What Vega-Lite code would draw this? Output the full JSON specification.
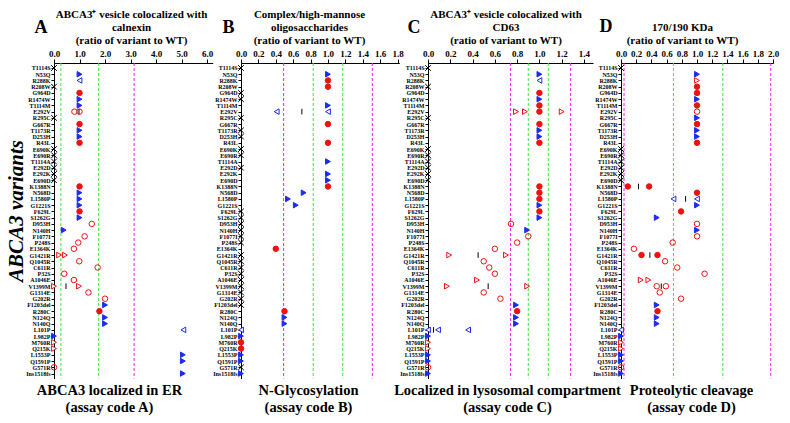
{
  "$schema": "https://vega.github.io/schema/vega-lite/v6.json",
  "padding": {"left": 5, "top": 8, "right": 5, "bottom": 5},
  "spacing": 28,
  "bounds": "flush",
  "title": {"text": "ABCA3 variants", "orient": "left", "anchor": "middle", "frame": "bounds", "font": "Liberation Serif", "fontSize": 21, "fontStyle": "italic", "fontWeight": "bold", "color": "#000", "offset": -1},
  "config": {
    "view": {"stroke": null},
    "font": "Liberation Serif",
    "axis": {"labelFont": "Liberation Serif", "titleFont": "Liberation Serif", "labelFontWeight": "bold", "titleFontWeight": "bold", "labelColor": "#000", "titleColor": "#000", "domainColor": "#000", "tickColor": "#000", "grid": false},
    "axisX": {"labelFontSize": 9, "tickSize": 4, "labelPadding": 1, "titleFontSize": 11, "titleLineHeight": 13, "titlePadding": 4, "labelFlush": false, "labelOverlap": false},
    "axisY": {"labelFontSize": 6, "tickSize": 3, "labelPadding": 1, "labelOverlap": false, "titleAngle": 0, "titleFontSize": 18, "titleAlign": "left", "titleBaseline": "alphabetic", "titleY": -31}
  },
  "datasets": {
    "lines": [
      {"p": "A", "x": 0.27, "c": "g"}, {"p": "A", "x": 1.75, "c": "g"}, {"p": "A", "x": 3.14, "c": "m"},
      {"p": "B", "x": 0.49, "c": "m"}, {"p": "B", "x": 0.83, "c": "g"}, {"p": "B", "x": 1.17, "c": "g"}, {"p": "B", "x": 1.51, "c": "m"},
      {"p": "C", "x": 0.74, "c": "m"}, {"p": "C", "x": 0.9, "c": "g"}, {"p": "C", "x": 1.08, "c": "g"}, {"p": "C", "x": 1.28, "c": "m"},
      {"p": "D", "x": 0.04, "c": "m"}, {"p": "D", "x": 0.69, "c": "g"}, {"p": "D", "x": 1.34, "c": "g"}, {"p": "D", "x": 1.97, "c": "m"}
    ],
    "pts": [
      {"p": "A", "v": "T1114S", "x": 0, "m": "nd"},
      {"p": "A", "v": "N53Q", "x": 1, "m": "bt"},
      {"p": "A", "v": "R288K", "x": 1, "m": "bl"},
      {"p": "A", "v": "R208W", "x": 0, "m": "ndx"},
      {"p": "A", "v": "G964D", "x": 1, "m": "fc"},
      {"p": "A", "v": "R1474W", "x": 1, "m": "bt"},
      {"p": "A", "v": "T1114M", "x": 1, "m": "bt"},
      {"p": "A", "v": "E292V", "x": 0.8, "m": "oc"},
      {"p": "A", "v": "E292V", "x": 1, "m": "oc"},
      {"p": "A", "v": "E292V", "x": 0.98, "m": "bar"},
      {"p": "A", "v": "R295C", "x": 0, "m": "nd"},
      {"p": "A", "v": "G667R", "x": 1, "m": "fc"},
      {"p": "A", "v": "T1173R", "x": 1, "m": "bt"},
      {"p": "A", "v": "D253H", "x": 1, "m": "bt"},
      {"p": "A", "v": "R43L", "x": 1, "m": "fc"},
      {"p": "A", "v": "E690K", "x": 0, "m": "nd"},
      {"p": "A", "v": "E690R", "x": 0, "m": "nd"},
      {"p": "A", "v": "T1114A", "x": 0, "m": "nd"},
      {"p": "A", "v": "E292D", "x": 0, "m": "nd"},
      {"p": "A", "v": "E292K", "x": 0, "m": "nd"},
      {"p": "A", "v": "E690D", "x": 0, "m": "nd"},
      {"p": "A", "v": "K1388N", "x": 1, "m": "fc"},
      {"p": "A", "v": "N568D", "x": 1, "m": "bt"},
      {"p": "A", "v": "L1580P", "x": 1, "m": "bt"},
      {"p": "A", "v": "G1221S", "x": 1, "m": "bt"},
      {"p": "A", "v": "F629L", "x": 1, "m": "fc"},
      {"p": "A", "v": "S1262G", "x": 1, "m": "bt"},
      {"p": "A", "v": "D953H", "x": 1.48, "m": "oc"},
      {"p": "A", "v": "N140H", "x": 0.38, "m": "bt"},
      {"p": "A", "v": "F1077I", "x": 1.2, "m": "oc"},
      {"p": "A", "v": "P248S", "x": 0.95, "m": "oc"},
      {"p": "A", "v": "E1364K", "x": 0.78, "m": "oc"},
      {"p": "A", "v": "G1421R", "x": 0.2, "m": "rt"},
      {"p": "A", "v": "G1421R", "x": 0.43, "m": "rt"},
      {"p": "A", "v": "Q1045R", "x": 0.99, "m": "oc"},
      {"p": "A", "v": "C611R", "x": 1.71, "m": "oc"},
      {"p": "A", "v": "P32S", "x": 0.4, "m": "oc"},
      {"p": "A", "v": "A1046E", "x": 0.78, "m": "oc"},
      {"p": "A", "v": "V1399M", "x": 0, "m": "rt"},
      {"p": "A", "v": "V1399M", "x": 0.47, "m": "bar"},
      {"p": "A", "v": "V1399M", "x": 0.98, "m": "rt"},
      {"p": "A", "v": "G1314E", "x": 1.35, "m": "oc"},
      {"p": "A", "v": "G202R", "x": 2.0, "m": "oc"},
      {"p": "A", "v": "F1203del", "x": 2.0, "m": "bt"},
      {"p": "A", "v": "R280C", "x": 1.78, "m": "fc"},
      {"p": "A", "v": "N124Q", "x": 2.0, "m": "bt"},
      {"p": "A", "v": "N140Q", "x": 2.0, "m": "bt"},
      {"p": "A", "v": "L101P", "x": 5.07, "m": "bl"},
      {"p": "A", "v": "L982P", "x": 0, "m": "bt"},
      {"p": "A", "v": "M760R", "x": 0, "m": "rt"},
      {"p": "A", "v": "Q215K", "x": 0, "m": "rt"},
      {"p": "A", "v": "L1553P", "x": 5.05, "m": "bt"},
      {"p": "A", "v": "Q1591P", "x": 5.05, "m": "bt"},
      {"p": "A", "v": "G571R", "x": 0, "m": "oc"},
      {"p": "A", "v": "Ins1518fs", "x": 5.05, "m": "bt"},

      {"p": "B", "v": "T1114S", "x": 0, "m": "nd"},
      {"p": "B", "v": "N53Q", "x": 1, "m": "bt"},
      {"p": "B", "v": "R288K", "x": 1, "m": "fc"},
      {"p": "B", "v": "R208W", "x": 1, "m": "fc"},
      {"p": "B", "v": "G964D", "x": 0, "m": "nd"},
      {"p": "B", "v": "R1474W", "x": 0, "m": "nd"},
      {"p": "B", "v": "T1114M", "x": 1, "m": "bt"},
      {"p": "B", "v": "E292V", "x": 0.41, "m": "bl"},
      {"p": "B", "v": "E292V", "x": 0.7, "m": "bar"},
      {"p": "B", "v": "E292V", "x": 1.0, "m": "bl"},
      {"p": "B", "v": "R295C", "x": 0, "m": "nd"},
      {"p": "B", "v": "G667R", "x": 1, "m": "fc"},
      {"p": "B", "v": "T1173R", "x": 0, "m": "nd"},
      {"p": "B", "v": "D253H", "x": 0, "m": "nd"},
      {"p": "B", "v": "R43L", "x": 1, "m": "fc"},
      {"p": "B", "v": "E690K", "x": 0, "m": "nd"},
      {"p": "B", "v": "E690R", "x": 0, "m": "nd"},
      {"p": "B", "v": "T1114A", "x": 1, "m": "bt"},
      {"p": "B", "v": "E292D", "x": 0, "m": "nd"},
      {"p": "B", "v": "E292K", "x": 1, "m": "bt"},
      {"p": "B", "v": "E690D", "x": 1, "m": "bt"},
      {"p": "B", "v": "K1388N", "x": 1, "m": "fc"},
      {"p": "B", "v": "N568D", "x": 0.72, "m": "bt"},
      {"p": "B", "v": "L1580P", "x": 0.54, "m": "bt"},
      {"p": "B", "v": "G1221S", "x": 0.63, "m": "bt"},
      {"p": "B", "v": "F629L", "x": 0, "m": "nd"},
      {"p": "B", "v": "S1262G", "x": 0, "m": "nd"},
      {"p": "B", "v": "D953H", "x": 0, "m": "nd"},
      {"p": "B", "v": "N140H", "x": 0, "m": "nd"},
      {"p": "B", "v": "F1077I", "x": 0, "m": "nd"},
      {"p": "B", "v": "P248S", "x": 0, "m": "nd"},
      {"p": "B", "v": "E1364K", "x": 0.4, "m": "fc"},
      {"p": "B", "v": "G1421R", "x": 0, "m": "nd"},
      {"p": "B", "v": "Q1045R", "x": 0, "m": "nd"},
      {"p": "B", "v": "C611R", "x": 0, "m": "nd"},
      {"p": "B", "v": "P32S", "x": 0, "m": "nd"},
      {"p": "B", "v": "A1046E", "x": 0, "m": "nd"},
      {"p": "B", "v": "V1399M", "x": 0, "m": "nd"},
      {"p": "B", "v": "G1314E", "x": 0, "m": "nd"},
      {"p": "B", "v": "G202R", "x": 0, "m": "nd"},
      {"p": "B", "v": "F1203del", "x": 0, "m": "nd"},
      {"p": "B", "v": "R280C", "x": 0.5, "m": "fc"},
      {"p": "B", "v": "N124Q", "x": 0.5, "m": "bt"},
      {"p": "B", "v": "N140Q", "x": 0.5, "m": "bt"},
      {"p": "B", "v": "L101P", "x": 0, "m": "bl"},
      {"p": "B", "v": "L982P", "x": 0, "m": "bt"},
      {"p": "B", "v": "M760R", "x": 0, "m": "fc"},
      {"p": "B", "v": "Q215K", "x": 0, "m": "fc"},
      {"p": "B", "v": "L1553P", "x": 0, "m": "bt"},
      {"p": "B", "v": "Q1591P", "x": 0, "m": "bt"},
      {"p": "B", "v": "G571R", "x": 0, "m": "nd"},
      {"p": "B", "v": "Ins1518fs", "x": 0, "m": "bt"},

      {"p": "C", "v": "T1114S", "x": 0, "m": "nd"},
      {"p": "C", "v": "N53Q", "x": 1, "m": "bt"},
      {"p": "C", "v": "R288K", "x": 1, "m": "bl"},
      {"p": "C", "v": "R208W", "x": 0, "m": "nd"},
      {"p": "C", "v": "G964D", "x": 1, "m": "fc"},
      {"p": "C", "v": "R1474W", "x": 1, "m": "bt"},
      {"p": "C", "v": "T1114M", "x": 1, "m": "fc"},
      {"p": "C", "v": "E292V", "x": 0.79, "m": "rt"},
      {"p": "C", "v": "E292V", "x": 0.87, "m": "rt"},
      {"p": "C", "v": "E292V", "x": 1.0, "m": "fc"},
      {"p": "C", "v": "E292V", "x": 1.2, "m": "rt"},
      {"p": "C", "v": "R295C", "x": 0, "m": "nd"},
      {"p": "C", "v": "G667R", "x": 1, "m": "fc"},
      {"p": "C", "v": "T1173R", "x": 1, "m": "bt"},
      {"p": "C", "v": "D253H", "x": 1, "m": "bt"},
      {"p": "C", "v": "R43L", "x": 1, "m": "fc"},
      {"p": "C", "v": "E690K", "x": 0, "m": "nd"},
      {"p": "C", "v": "E690R", "x": 0, "m": "nd"},
      {"p": "C", "v": "T1114A", "x": 0, "m": "nd"},
      {"p": "C", "v": "E292D", "x": 0, "m": "nd"},
      {"p": "C", "v": "E292K", "x": 0, "m": "nd"},
      {"p": "C", "v": "E690D", "x": 0, "m": "nd"},
      {"p": "C", "v": "K1388N", "x": 1, "m": "fc"},
      {"p": "C", "v": "N568D", "x": 1, "m": "fc"},
      {"p": "C", "v": "L1580P", "x": 1, "m": "fc"},
      {"p": "C", "v": "G1221S", "x": 1, "m": "bt"},
      {"p": "C", "v": "F629L", "x": 1, "m": "fc"},
      {"p": "C", "v": "S1262G", "x": 1, "m": "bt"},
      {"p": "C", "v": "D953H", "x": 0.745, "m": "oc"},
      {"p": "C", "v": "N140H", "x": 0.89, "m": "bt"},
      {"p": "C", "v": "F1077I", "x": 0.9, "m": "oc"},
      {"p": "C", "v": "P248S", "x": 0.8, "m": "oc"},
      {"p": "C", "v": "E1364K", "x": 0.6, "m": "oc"},
      {"p": "C", "v": "G1421R", "x": 0.19, "m": "rt"},
      {"p": "C", "v": "G1421R", "x": 0.45, "m": "bar"},
      {"p": "C", "v": "G1421R", "x": 0.7, "m": "rt"},
      {"p": "C", "v": "Q1045R", "x": 0.5, "m": "oc"},
      {"p": "C", "v": "C611R", "x": 0.55, "m": "oc"},
      {"p": "C", "v": "P32S", "x": 0.6, "m": "oc"},
      {"p": "C", "v": "A1046E", "x": 0.44, "m": "rt"},
      {"p": "C", "v": "V1399M", "x": 0.17, "m": "rt"},
      {"p": "C", "v": "V1399M", "x": 0.54, "m": "bar"},
      {"p": "C", "v": "V1399M", "x": 0.89, "m": "rt"},
      {"p": "C", "v": "G1314E", "x": 0.5, "m": "oc"},
      {"p": "C", "v": "G202R", "x": 0.65, "m": "oc"},
      {"p": "C", "v": "F1203del", "x": 0.79, "m": "bt"},
      {"p": "C", "v": "R280C", "x": 0.8, "m": "fc"},
      {"p": "C", "v": "N124Q", "x": 0.79, "m": "bt"},
      {"p": "C", "v": "N140Q", "x": 0.79, "m": "bt"},
      {"p": "C", "v": "L101P", "x": 0, "m": "bl"},
      {"p": "C", "v": "L101P", "x": 0.05, "m": "bar"},
      {"p": "C", "v": "L101P", "x": 0.09, "m": "bl"},
      {"p": "C", "v": "L101P", "x": 0.36, "m": "bl"},
      {"p": "C", "v": "L982P", "x": 0, "m": "bt"},
      {"p": "C", "v": "M760R", "x": 0, "m": "rt"},
      {"p": "C", "v": "Q215K", "x": 0, "m": "rt"},
      {"p": "C", "v": "L1553P", "x": 0, "m": "bt"},
      {"p": "C", "v": "Q1591P", "x": 0, "m": "bt"},
      {"p": "C", "v": "G571R", "x": 0, "m": "oc"},
      {"p": "C", "v": "Ins1518fs", "x": 0, "m": "bt"},

      {"p": "D", "v": "T1114S", "x": 0, "m": "nd"},
      {"p": "D", "v": "N53Q", "x": 1, "m": "bt"},
      {"p": "D", "v": "R288K", "x": 1, "m": "rt"},
      {"p": "D", "v": "R208W", "x": 1, "m": "fc"},
      {"p": "D", "v": "G964D", "x": 1, "m": "fc"},
      {"p": "D", "v": "R1474W", "x": 1, "m": "bt"},
      {"p": "D", "v": "T1114M", "x": 1, "m": "fc"},
      {"p": "D", "v": "E292V", "x": 1, "m": "oc"},
      {"p": "D", "v": "R295C", "x": 1, "m": "bt"},
      {"p": "D", "v": "G667R", "x": 1, "m": "fc"},
      {"p": "D", "v": "T1173R", "x": 1, "m": "bt"},
      {"p": "D", "v": "D253H", "x": 1, "m": "bt"},
      {"p": "D", "v": "R43L", "x": 1, "m": "fc"},
      {"p": "D", "v": "E690K", "x": 0, "m": "nd"},
      {"p": "D", "v": "E690R", "x": 0, "m": "nd"},
      {"p": "D", "v": "T1114A", "x": 0, "m": "nd"},
      {"p": "D", "v": "E292D", "x": 0, "m": "nd"},
      {"p": "D", "v": "E292K", "x": 0, "m": "nd"},
      {"p": "D", "v": "E690D", "x": 0, "m": "nd"},
      {"p": "D", "v": "K1388N", "x": 0.09, "m": "fc"},
      {"p": "D", "v": "K1388N", "x": 0.23, "m": "bar"},
      {"p": "D", "v": "K1388N", "x": 0.37, "m": "fc"},
      {"p": "D", "v": "N568D", "x": 1, "m": "fc"},
      {"p": "D", "v": "L1580P", "x": 0.69, "m": "bl"},
      {"p": "D", "v": "L1580P", "x": 0.85, "m": "bar"},
      {"p": "D", "v": "L1580P", "x": 1.0, "m": "bl"},
      {"p": "D", "v": "G1221S", "x": 1, "m": "bt"},
      {"p": "D", "v": "F629L", "x": 0.79, "m": "fc"},
      {"p": "D", "v": "S1262G", "x": 0.47, "m": "bt"},
      {"p": "D", "v": "D953H", "x": 1, "m": "oc"},
      {"p": "D", "v": "N140H", "x": 1, "m": "bt"},
      {"p": "D", "v": "F1077I", "x": 1, "m": "oc"},
      {"p": "D", "v": "P248S", "x": 0.68, "m": "oc"},
      {"p": "D", "v": "E1364K", "x": 0.17, "m": "oc"},
      {"p": "D", "v": "G1421R", "x": 0.27, "m": "fc"},
      {"p": "D", "v": "G1421R", "x": 0.38, "m": "bar"},
      {"p": "D", "v": "G1421R", "x": 0.48, "m": "fc"},
      {"p": "D", "v": "Q1045R", "x": 0.58, "m": "oc"},
      {"p": "D", "v": "C611R", "x": 0.74, "m": "oc"},
      {"p": "D", "v": "P32S", "x": 1.1, "m": "oc"},
      {"p": "D", "v": "A1046E", "x": 0.26, "m": "rt"},
      {"p": "D", "v": "A1046E", "x": 0.36, "m": "rt"},
      {"p": "D", "v": "V1399M", "x": 0.47, "m": "oc"},
      {"p": "D", "v": "V1399M", "x": 0.53, "m": "bar"},
      {"p": "D", "v": "V1399M", "x": 0.59, "m": "oc"},
      {"p": "D", "v": "G1314E", "x": 0.51, "m": "oc"},
      {"p": "D", "v": "G202R", "x": 0.79, "m": "oc"},
      {"p": "D", "v": "F1203del", "x": 0.47, "m": "bt"},
      {"p": "D", "v": "R280C", "x": 0.48, "m": "fc"},
      {"p": "D", "v": "N124Q", "x": 0.47, "m": "bt"},
      {"p": "D", "v": "N140Q", "x": 0.47, "m": "bt"},
      {"p": "D", "v": "L101P", "x": 0, "m": "bl"},
      {"p": "D", "v": "L982P", "x": 0, "m": "bt"},
      {"p": "D", "v": "M760R", "x": 0, "m": "rt"},
      {"p": "D", "v": "Q215K", "x": 0, "m": "rt"},
      {"p": "D", "v": "L1553P", "x": 0, "m": "bt"},
      {"p": "D", "v": "Q1591P", "x": 0, "m": "bt"},
      {"p": "D", "v": "G571R", "x": 0, "m": "oc"},
      {"p": "D", "v": "Ins1518fs", "x": 0, "m": "bt"}
    ]
  },
  "hconcat": [
    {
      "width": 158.7, "height": 315.5,
      "resolve": {"axis": {"x": "independent"}},
      "layer": [
        {
          "data": {"name": "lines"}, "transform": [{"filter": "datum.p === 'A' && datum.c === 'g'"}],
          "mark": {"type": "rule", "strokeDash": [3, 2], "strokeWidth": 1, "color": "#3de63d"},
          "encoding": {
            "x": {"field": "x", "type": "quantitative", "scale": {"domain": [0, 6.22], "nice": false, "zero": false},
                  "axis": {"orient": "bottom", "domain": false, "ticks": false, "labels": false, "title": ["ABCA3 localized in ER", "(assay code A)"], "titleX": 55, "titlePadding": 5, "titleFontSize": 14.5, "titleLineHeight": 17}}
          }
        },
        {
          "data": {"name": "lines"}, "transform": [{"filter": "datum.p === 'A' && datum.c === 'm'"}],
          "mark": {"type": "rule", "strokeDash": [3, 2], "strokeWidth": 1, "color": "#f020f0"},
          "encoding": {
            "x": {"field": "x", "type": "quantitative", "scale": {"domain": [0, 6.22], "nice": false, "zero": false}, "axis": null}
          }
        },
        {
          "data": {"name": "pts"}, "transform": [{"filter": "datum.p === 'A'"}],
          "mark": {"type": "point", "opacity": 1},
          "encoding": {
            "x": {"field": "x", "type": "quantitative", "scale": {"domain": [0, 6.22], "nice": false, "zero": false},
                  "axis": {"orient": "top", "values": [0, 1, 2, 3, 4, 5, 6], "format": ".1f", "title": ["ABCA3⁺ vesicle colocalized with", "calnexin", "(ratio of variant to WT)"], "titleX": 77}},
            "y": {"field": "v", "type": "ordinal", "sort": null,
                  "scale": {"type": "point", "padding": 0.8, "domain": ["T1114S","N53Q","R288K","R208W","G964D","R1474W","T1114M","E292V","R295C","G667R","T1173R","D253H","R43L","E690K","E690R","T1114A","E292D","E292K","E690D","K1388N","N568D","L1580P","G1221S","F629L","S1262G","D953H","N140H","F1077I","P248S","E1364K","G1421R","Q1045R","C611R","P32S","A1046E","V1399M","G1314E","G202R","F1203del","R280C","N124Q","N140Q","L101P","L982P","M760R","Q215K","L1553P","Q1591P","G571R","Ins1518fs"]},
                  "axis": {"title": "A", "titleX": -20}},
            "shape": {"field": "m", "type": "nominal", "scale": {"domain": ["fc","oc","bt","bl","rt","bar","nd","ndx"], "range": ["circle","circle","triangle-right","triangle-left","triangle-right","M0,-1L0,1","M-1,-1L1,1M-1,1L1,-1","M-1,-1L1,1M-1,1L1,-1"]}, "legend": null},
            "fill": {"field": "m", "type": "nominal", "scale": {"domain": ["fc","oc","bt","bl","rt","bar","nd","ndx"], "range": ["#ee1111","transparent","#1a2cf0","#ffffff","#ffffff","transparent","transparent","transparent"]}, "legend": null},
            "stroke": {"field": "m", "type": "nominal", "scale": {"domain": ["fc","oc","bt","bl","rt","bar","nd","ndx"], "range": ["#ee1111","#ee1111","#1a2cf0","#1a2cf0","#ee1111","#000000","#000000","#000000"]}, "legend": null},
            "size": {"field": "m", "type": "nominal", "scale": {"domain": ["fc","oc","bt","bl","rt","bar","nd","ndx"], "range": [30, 32, 36, 38, 40, 14, 9, 25]}, "legend": null},
            "strokeWidth": {"field": "m", "type": "nominal", "scale": {"domain": ["fc","oc","bt","bl","rt","bar","nd","ndx"], "range": [1, 1, 1, 1.7, 2.3, 1, 0.9, 1.2]}, "legend": null}
          }
        }
      ]
    },
    {
      "width": 158.3, "height": 315.5,
      "resolve": {"axis": {"x": "independent"}},
      "layer": [
        {
          "data": {"name": "lines"}, "transform": [{"filter": "datum.p === 'B' && datum.c === 'g'"}],
          "mark": {"type": "rule", "strokeDash": [3, 2], "strokeWidth": 1, "color": "#3de63d"},
          "encoding": {
            "x": {"field": "x", "type": "quantitative", "scale": {"domain": [0, 1.82], "nice": false, "zero": false},
                  "axis": {"orient": "bottom", "domain": false, "ticks": false, "labels": false, "title": ["N-Glycosylation", "(assay code B)"], "titleX": 67, "titlePadding": 5, "titleFontSize": 14.5, "titleLineHeight": 17}}
          }
        },
        {
          "data": {"name": "lines"}, "transform": [{"filter": "datum.p === 'B' && datum.c === 'm'"}],
          "mark": {"type": "rule", "strokeDash": [3, 2], "strokeWidth": 1, "color": "#f020f0"},
          "encoding": {
            "x": {"field": "x", "type": "quantitative", "scale": {"domain": [0, 1.82], "nice": false, "zero": false}, "axis": null}
          }
        },
        {
          "data": {"name": "pts"}, "transform": [{"filter": "datum.p === 'B'"}],
          "mark": {"type": "point", "opacity": 1},
          "encoding": {
            "x": {"field": "x", "type": "quantitative", "scale": {"domain": [0, 1.82], "nice": false, "zero": false},
                  "axis": {"orient": "top", "values": [0, 0.2, 0.4, 0.6, 0.8, 1.0, 1.2, 1.4, 1.6, 1.8], "format": ".1f", "title": ["Complex/high-mannose", "oligosaccharides", "(ratio of variant to WT)"], "titleX": 68}},
            "y": {"field": "v", "type": "ordinal", "sort": null,
                  "scale": {"type": "point", "padding": 0.8, "domain": ["T1114S","N53Q","R288K","R208W","G964D","R1474W","T1114M","E292V","R295C","G667R","T1173R","D253H","R43L","E690K","E690R","T1114A","E292D","E292K","E690D","K1388N","N568D","L1580P","G1221S","F629L","S1262G","D953H","N140H","F1077I","P248S","E1364K","G1421R","Q1045R","C611R","P32S","A1046E","V1399M","G1314E","G202R","F1203del","R280C","N124Q","N140Q","L101P","L982P","M760R","Q215K","L1553P","Q1591P","G571R","Ins1518fs"]},
                  "axis": {"title": "B", "titleX": -19}},
            "shape": {"field": "m", "type": "nominal", "scale": {"domain": ["fc","oc","bt","bl","rt","bar","nd","ndx"], "range": ["circle","circle","triangle-right","triangle-left","triangle-right","M0,-1L0,1","M-1,-1L1,1M-1,1L1,-1","M-1,-1L1,1M-1,1L1,-1"]}, "legend": null},
            "fill": {"field": "m", "type": "nominal", "scale": {"domain": ["fc","oc","bt","bl","rt","bar","nd","ndx"], "range": ["#ee1111","transparent","#1a2cf0","#ffffff","#ffffff","transparent","transparent","transparent"]}, "legend": null},
            "stroke": {"field": "m", "type": "nominal", "scale": {"domain": ["fc","oc","bt","bl","rt","bar","nd","ndx"], "range": ["#ee1111","#ee1111","#1a2cf0","#1a2cf0","#ee1111","#000000","#000000","#000000"]}, "legend": null},
            "size": {"field": "m", "type": "nominal", "scale": {"domain": ["fc","oc","bt","bl","rt","bar","nd","ndx"], "range": [30, 32, 36, 38, 40, 14, 9, 25]}, "legend": null},
            "strokeWidth": {"field": "m", "type": "nominal", "scale": {"domain": ["fc","oc","bt","bl","rt","bar","nd","ndx"], "range": [1, 1, 1, 1.7, 2.3, 1, 0.9, 1.2]}, "legend": null}
          }
        }
      ]
    },
    {
      "width": 165, "height": 315.5,
      "resolve": {"axis": {"x": "independent"}},
      "layer": [
        {
          "data": {"name": "lines"}, "transform": [{"filter": "datum.p === 'C' && datum.c === 'g'"}],
          "mark": {"type": "rule", "strokeDash": [3, 2], "strokeWidth": 1, "color": "#3de63d"},
          "encoding": {
            "x": {"field": "x", "type": "quantitative", "scale": {"domain": [0, 1.481], "nice": false, "zero": false},
                  "axis": {"orient": "bottom", "domain": false, "ticks": false, "labels": false, "title": ["Localized in lysosomal compartment", "(assay code C)"], "titleX": 79, "titlePadding": 5, "titleFontSize": 14.5, "titleLineHeight": 17}}
          }
        },
        {
          "data": {"name": "lines"}, "transform": [{"filter": "datum.p === 'C' && datum.c === 'm'"}],
          "mark": {"type": "rule", "strokeDash": [3, 2], "strokeWidth": 1, "color": "#f020f0"},
          "encoding": {
            "x": {"field": "x", "type": "quantitative", "scale": {"domain": [0, 1.481], "nice": false, "zero": false}, "axis": null}
          }
        },
        {
          "data": {"name": "pts"}, "transform": [{"filter": "datum.p === 'C'"}],
          "mark": {"type": "point", "opacity": 1},
          "encoding": {
            "x": {"field": "x", "type": "quantitative", "scale": {"domain": [0, 1.481], "nice": false, "zero": false},
                  "axis": {"orient": "top", "values": [0, 0.2, 0.4, 0.6, 0.8, 1.0, 1.2, 1.4], "format": ".1f", "title": ["ABCA3⁺ vesicle colocalized with", "CD63", "(ratio of variant to WT)"], "titleX": 77.5}},
            "y": {"field": "v", "type": "ordinal", "sort": null,
                  "scale": {"type": "point", "padding": 0.8, "domain": ["T1114S","N53Q","R288K","R208W","G964D","R1474W","T1114M","E292V","R295C","G667R","T1173R","D253H","R43L","E690K","E690R","T1114A","E292D","E292K","E690D","K1388N","N568D","L1580P","G1221S","F629L","S1262G","D953H","N140H","F1077I","P248S","E1364K","G1421R","Q1045R","C611R","P32S","A1046E","V1399M","G1314E","G202R","F1203del","R280C","N124Q","N140Q","L101P","L982P","M760R","Q215K","L1553P","Q1591P","G571R","Ins1518fs"]},
                  "axis": {"title": "C", "titleX": -21}},
            "shape": {"field": "m", "type": "nominal", "scale": {"domain": ["fc","oc","bt","bl","rt","bar","nd","ndx"], "range": ["circle","circle","triangle-right","triangle-left","triangle-right","M0,-1L0,1","M-1,-1L1,1M-1,1L1,-1","M-1,-1L1,1M-1,1L1,-1"]}, "legend": null},
            "fill": {"field": "m", "type": "nominal", "scale": {"domain": ["fc","oc","bt","bl","rt","bar","nd","ndx"], "range": ["#ee1111","transparent","#1a2cf0","#ffffff","#ffffff","transparent","transparent","transparent"]}, "legend": null},
            "stroke": {"field": "m", "type": "nominal", "scale": {"domain": ["fc","oc","bt","bl","rt","bar","nd","ndx"], "range": ["#ee1111","#ee1111","#1a2cf0","#1a2cf0","#ee1111","#000000","#000000","#000000"]}, "legend": null},
            "size": {"field": "m", "type": "nominal", "scale": {"domain": ["fc","oc","bt","bl","rt","bar","nd","ndx"], "range": [30, 32, 36, 38, 40, 14, 9, 25]}, "legend": null},
            "strokeWidth": {"field": "m", "type": "nominal", "scale": {"domain": ["fc","oc","bt","bl","rt","bar","nd","ndx"], "range": [1, 1, 1, 1.7, 2.3, 1, 0.9, 1.2]}, "legend": null}
          }
        }
      ]
    },
    {
      "width": 152, "height": 315.5,
      "resolve": {"axis": {"x": "independent"}},
      "layer": [
        {
          "data": {"name": "lines"}, "transform": [{"filter": "datum.p === 'D' && datum.c === 'g'"}],
          "mark": {"type": "rule", "strokeDash": [3, 2], "strokeWidth": 1, "color": "#3de63d"},
          "encoding": {
            "x": {"field": "x", "type": "quantitative", "scale": {"domain": [0, 2.0], "nice": false, "zero": false},
                  "axis": {"orient": "bottom", "domain": false, "ticks": false, "labels": false, "title": ["Proteolytic cleavage", "(assay code D)"], "titleX": 70, "titlePadding": 5, "titleFontSize": 14.5, "titleLineHeight": 17}}
          }
        },
        {
          "data": {"name": "lines"}, "transform": [{"filter": "datum.p === 'D' && datum.c === 'm'"}],
          "mark": {"type": "rule", "strokeDash": [3, 2], "strokeWidth": 1, "color": "#f020f0"},
          "encoding": {
            "x": {"field": "x", "type": "quantitative", "scale": {"domain": [0, 2.0], "nice": false, "zero": false}, "axis": null}
          }
        },
        {
          "data": {"name": "pts"}, "transform": [{"filter": "datum.p === 'D'"}],
          "mark": {"type": "point", "opacity": 1},
          "encoding": {
            "x": {"field": "x", "type": "quantitative", "scale": {"domain": [0, 2.0], "nice": false, "zero": false},
                  "axis": {"orient": "top", "values": [0, 0.2, 0.4, 0.6, 0.8, 1.0, 1.2, 1.4, 1.6, 1.8, 2.0], "format": ".1f", "title": ["170/190 KDa", "(ratio of variant to WT)"], "titleX": 61}},
            "y": {"field": "v", "type": "ordinal", "sort": null,
                  "scale": {"type": "point", "padding": 0.8, "domain": ["T1114S","N53Q","R288K","R208W","G964D","R1474W","T1114M","E292V","R295C","G667R","T1173R","D253H","R43L","E690K","E690R","T1114A","E292D","E292K","E690D","K1388N","N568D","L1580P","G1221S","F629L","S1262G","D953H","N140H","F1077I","P248S","E1364K","G1421R","Q1045R","C611R","P32S","A1046E","V1399M","G1314E","G202R","F1203del","R280C","N124Q","N140Q","L101P","L982P","M760R","Q215K","L1553P","Q1591P","G571R","Ins1518fs"]},
                  "axis": {"title": "D", "titleX": -22, "titleY": -32}},
            "shape": {"field": "m", "type": "nominal", "scale": {"domain": ["fc","oc","bt","bl","rt","bar","nd","ndx"], "range": ["circle","circle","triangle-right","triangle-left","triangle-right","M0,-1L0,1","M-1,-1L1,1M-1,1L1,-1","M-1,-1L1,1M-1,1L1,-1"]}, "legend": null},
            "fill": {"field": "m", "type": "nominal", "scale": {"domain": ["fc","oc","bt","bl","rt","bar","nd","ndx"], "range": ["#ee1111","transparent","#1a2cf0","#ffffff","#ffffff","transparent","transparent","transparent"]}, "legend": null},
            "stroke": {"field": "m", "type": "nominal", "scale": {"domain": ["fc","oc","bt","bl","rt","bar","nd","ndx"], "range": ["#ee1111","#ee1111","#1a2cf0","#1a2cf0","#ee1111","#000000","#000000","#000000"]}, "legend": null},
            "size": {"field": "m", "type": "nominal", "scale": {"domain": ["fc","oc","bt","bl","rt","bar","nd","ndx"], "range": [30, 32, 36, 38, 40, 14, 9, 25]}, "legend": null},
            "strokeWidth": {"field": "m", "type": "nominal", "scale": {"domain": ["fc","oc","bt","bl","rt","bar","nd","ndx"], "range": [1, 1, 1, 1.7, 2.3, 1, 0.9, 1.2]}, "legend": null}
          }
        }
      ]
    }
  ]
}
